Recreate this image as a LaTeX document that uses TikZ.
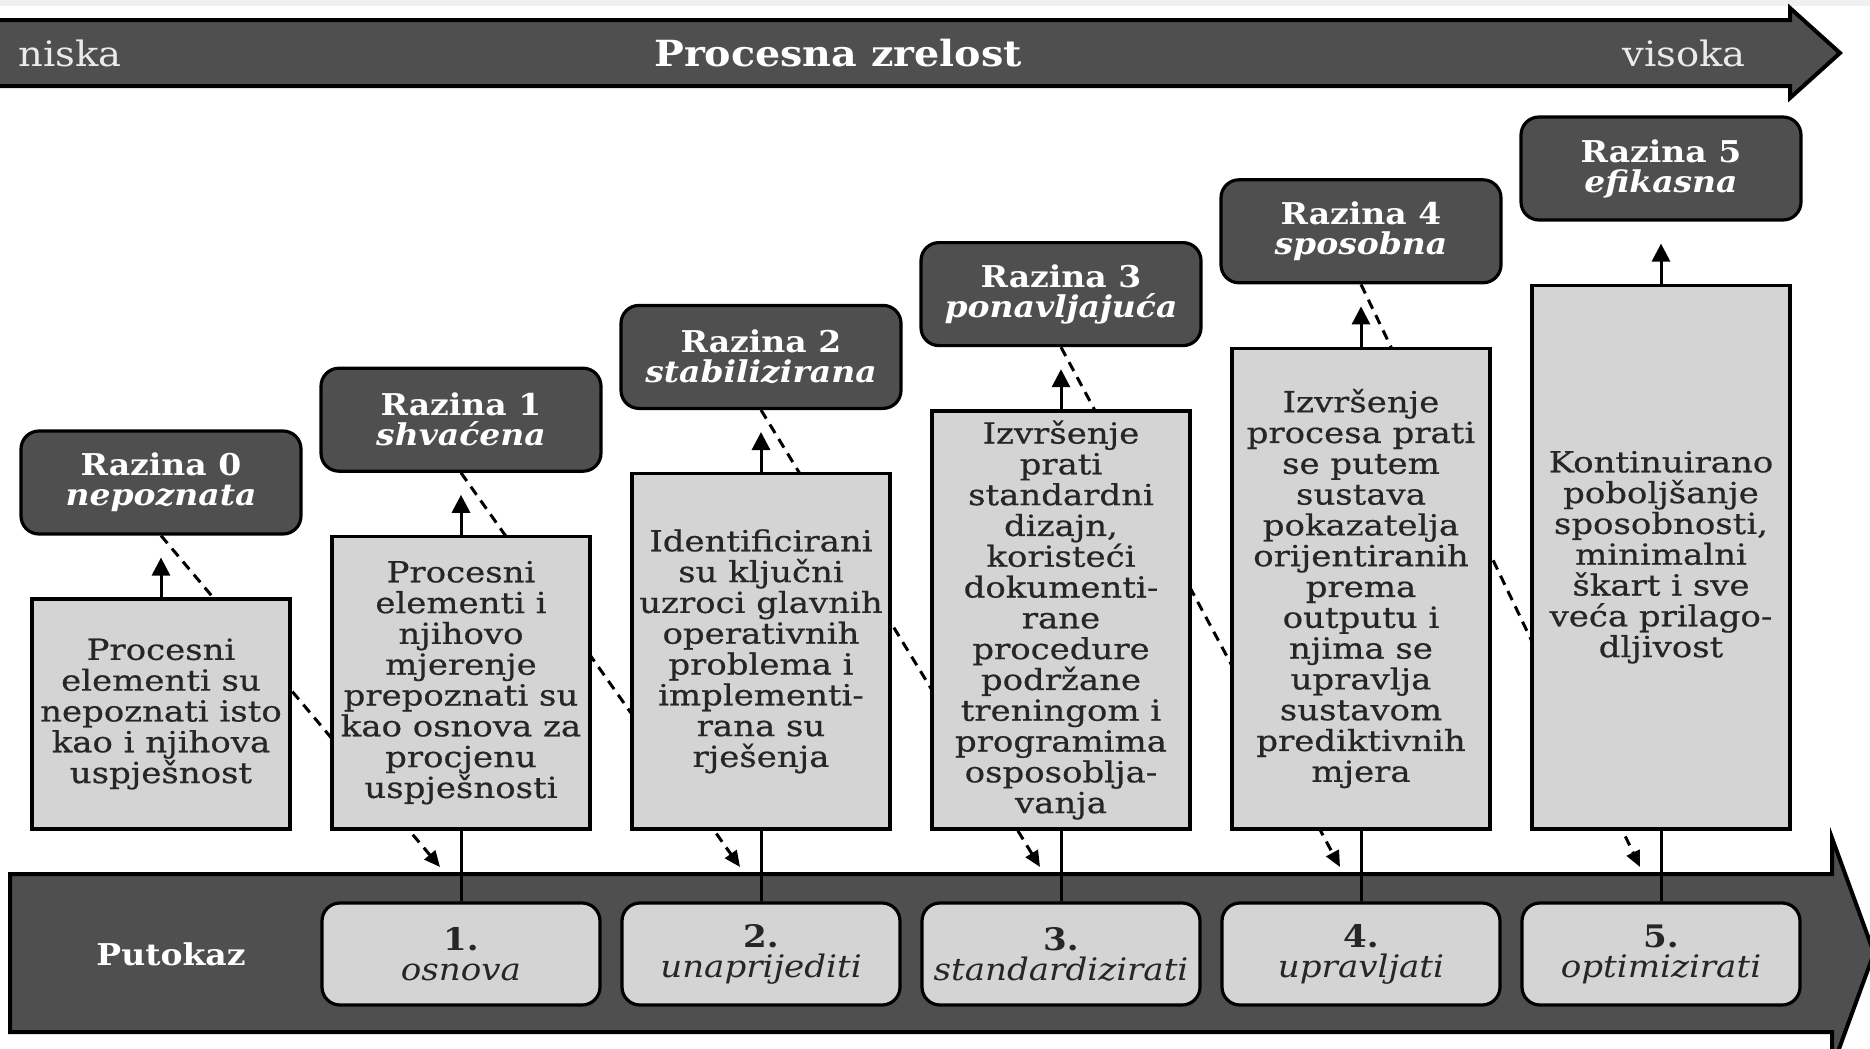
\documentclass[tikz,border=0pt]{standalone}
\usepackage{fontspec}
\setmainfont[FakeStretch=1.1]{DejaVu Serif}
\newfontfamily\descfont[FakeStretch=1.17,FakeBold=0.6]{DejaVu Serif}
\usetikzlibrary{arrows.meta}
\pgfdeclarelayer{back}
\pgfdeclarelayer{mid}
\pgfsetlayers{back,mid,main}
\definecolor{bandgray}{HTML}{4F4F4F}
\definecolor{boxgray}{HTML}{D4D4D4}
\definecolor{inkgray}{HTML}{262626}
\begin{document}
\begin{tikzpicture}[x=0.5pt, y=-0.5pt,
  level/.style={rectangle, rounded corners=9pt, draw=black, line width=1.6pt, fill=bandgray, text=white, minimum width=140pt, minimum height=51.5pt, inner sep=0pt, align=center, font=\fontsize{15}{15}\selectfont\bfseries},
  desc/.style={rectangle, draw=black, line width=1.6pt, fill=boxgray, text=inkgray, minimum width=129pt, inner sep=0pt, align=center, font=\descfont\fontsize{14.5}{15.4}\selectfont},
  stepbox/.style={rectangle, rounded corners=9pt, draw=black, line width=1.6pt, fill=boxgray, text=inkgray, minimum width=139pt, minimum height=51pt, inner sep=0pt, align=center, font=\fontsize{15.5}{15}\selectfont},
  band/.style={fill=bandgray, draw=black, line width=2pt, line join=miter},
  lift/.style={line width=1.5pt, -{Triangle[length=9pt,width=9pt]}, shorten >=11pt},
  drop/.style={line width=1.5pt, dash pattern=on 5pt off 3.5pt, -{Triangle[length=8pt,width=7pt]}},
  link/.style={line width=1.5pt}]
\useasboundingbox (0,0) rectangle (1870,1049);
\begin{pgfonlayer}{back}
\fill[gray!12] (0,0) rectangle (1870,6);
\path[band] (-10,20) -- (1790,20) -- (1790,8) -- (1840,53) -- (1790,98) -- (1790,86) -- (-10,86) -- cycle;
\path[band] (10,874) -- (1832,874) -- (1832,838) -- (1874,953) -- (1832,1068) -- (1832,1032) -- (10,1032) -- cycle;
\end{pgfonlayer}
\node[text=white!92!black, font=\fontsize{17.5}{18}\selectfont] (niska) at (70,53) {niska};
\node[text=white, font=\fontsize{18}{18}\selectfont\bfseries] (zrelost) at (838,53) {Procesna zrelost};
\node[text=white!92!black, font=\fontsize{17.5}{18}\selectfont] (visoka) at (1684,53) {visoka};
\node[text=white, font=\fontsize{15}{16}\selectfont\bfseries] (putokaz) at (171,954) {Putokaz};
\node[level] (lev0) at (161,482.5) {Razina 0\\\textit{nepoznata}};
\node[level] (lev1) at (461,419.7) {Razina 1\\\textit{shvaćena}};
\node[level] (lev2) at (761,356.9) {Razina 2\\\textit{stabilizirana}};
\node[level] (lev3) at (1061,294.1) {Razina 3\\\textit{ponavljajuća}};
\node[level] (lev4) at (1361,231.3) {Razina 4\\\textit{sposobna}};
\node[level] (lev5) at (1661,168.5) {Razina 5\\\textit{efikasna}};
\node[desc, minimum height=115pt] (box0) at (161,714) {Procesni\\elementi su\\nepoznati isto\\kao i njihova\\uspješnost};
\node[desc, minimum height=146.35pt] (box1) at (461,682.65) {Procesni\\elementi i\\njihovo\\mjerenje\\prepoznati su\\kao osnova za\\procjenu\\uspješnosti};
\node[desc, minimum height=177.7pt] (box2) at (761,651.3) {Identificirani\\su ključni\\uzroci glavnih\\operativnih\\problema i\\implementi-\\rana su\\rješenja};
\node[desc, minimum height=209.05pt] (box3) at (1061,619.95) {Izvršenje\\prati\\standardni\\dizajn,\\koristeći\\dokumenti-\\rane\\procedure\\podržane\\treningom i\\programima\\osposoblja-\\vanja};
\node[desc, minimum height=240.4pt] (box4) at (1361,588.6) {Izvršenje\\procesa prati\\se putem\\sustava\\pokazatelja\\orijentiranih\\prema\\outputu i\\njima se\\upravlja\\sustavom\\prediktivnih\\mjera};
\node[desc, minimum height=271.75pt] (box5) at (1661,557.25) {Kontinuirano\\poboljšanje\\sposobnosti,\\minimalni\\škart i sve\\veća prilago-\\dljivost};
\node[stepbox] (step1) at (461,954) {\textbf{1.}\\\textit{osnova}};
\node[stepbox] (step2) at (761,954) {\textbf{2.}\\\textit{unaprijediti}};
\node[stepbox] (step3) at (1061,954) {\textbf{3.}\\\textit{standardizirati}};
\node[stepbox] (step4) at (1361,954) {\textbf{4.}\\\textit{upravljati}};
\node[stepbox] (step5) at (1661,954) {\textbf{5.}\\\textit{optimizirati}};
\coordinate (in1) at (440,867);
\coordinate (in2) at (740,867);
\coordinate (in3) at (1040,867);
\coordinate (in4) at (1340,867);
\coordinate (in5) at (1640,867);
\draw[lift] (box0.north) -- (lev0.south);
\draw[lift] (box1.north) -- (lev1.south);
\draw[lift] (box2.north) -- (lev2.south);
\draw[lift] (box3.north) -- (lev3.south);
\draw[lift] (box4.north) -- (lev4.south);
\draw[lift] (box5.north) -- (lev5.south);
\draw[link] (box1.south) -- (step1.north);
\draw[link] (box2.south) -- (step2.north);
\draw[link] (box3.south) -- (step3.north);
\draw[link] (box4.south) -- (step4.north);
\draw[link] (box5.south) -- (step5.north);
\begin{pgfonlayer}{mid}
\draw[drop] (lev0.south) -- (in1);
\draw[drop] (lev1.south) -- (in2);
\draw[drop] (lev2.south) -- (in3);
\draw[drop] (lev3.south) -- (in4);
\draw[drop] (lev4.south) -- (in5);
\end{pgfonlayer}
\end{tikzpicture}
\end{document}
